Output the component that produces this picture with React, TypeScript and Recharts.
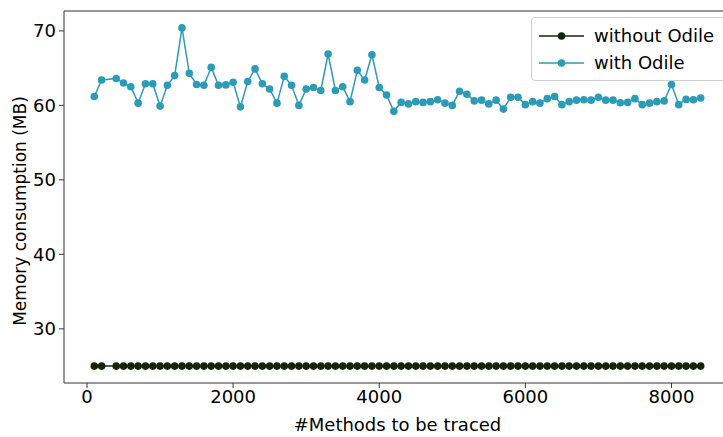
import React from "react";
import { LineChart, Line, XAxis, YAxis } from "recharts";

const methodCounts = [100, 200, 400, 500, 600, 700, 800, 900, 1000, 1100, 1200, 1300, 1400, 1500, 1600, 1700, 1800, 1900, 2000, 2100, 2200, 2300, 2400, 2500, 2600, 2700, 2800, 2900, 3000, 3100, 3200, 3300, 3400, 3500, 3600, 3700, 3800, 3900, 4000, 4100, 4200, 4300, 4400, 4500, 4600, 4700, 4800, 4900, 5000, 5100, 5200, 5300, 5400, 5500, 5600, 5700, 5800, 5900, 6000, 6100, 6200, 6300, 6400, 6500, 6600, 6700, 6800, 6900, 7000, 7100, 7200, 7300, 7400, 7500, 7600, 7700, 7800, 7900, 8000, 8100, 8200, 8300, 8400];

const withoutOdile = [25, 25, 25, 25, 25, 25, 25, 25, 25, 25, 25, 25, 25, 25, 25, 25, 25, 25, 25, 25, 25, 25, 25, 25, 25, 25, 25, 25, 25, 25, 25, 25, 25, 25, 25, 25, 25, 25, 25, 25, 25, 25, 25, 25, 25, 25, 25, 25, 25, 25, 25, 25, 25, 25, 25, 25, 25, 25, 25, 25, 25, 25, 25, 25, 25, 25, 25, 25, 25, 25, 25, 25, 25, 25, 25, 25, 25, 25, 25, 25, 25, 25, 25];

const withOdile = [
  61.2, 63.4, 63.6, 63.0, 62.5, 60.3, 62.9, 62.9, 59.9, 62.7,
  64.0, 70.4, 64.3, 62.8, 62.7, 65.1, 62.7, 62.75, 63.1, 59.8, 63.2, 64.9, 62.9, 62.2,
  60.3, 63.9, 62.7, 60.0, 62.2, 62.4, 62.0, 66.9, 62.0, 62.5, 60.5, 64.7, 63.4, 66.8, 62.4,
  61.4, 59.2, 60.4, 60.2, 60.5, 60.4, 60.5, 60.75, 60.3, 60.0, 61.9, 61.5, 60.6, 60.7,
  60.2, 60.7, 59.5, 61.1, 61.1, 60.1, 60.5, 60.3, 60.9, 61.2, 60.1, 60.5, 60.7, 60.75,
  60.7, 61.1, 60.7, 60.7, 60.35, 60.4, 60.9, 60.1, 60.3, 60.5, 60.6, 62.8, 60.1, 60.8, 60.75, 61.0,
];

const xTicks = [0, 2000, 4000, 6000, 8000];
const yTicks = [30, 40, 50, 60, 70];

const seriesNames = ["without Odile", "with Odile"];
const xTitle = "#Methods to be traced";
const yTitle = "Memory consumption (MB)";

const COLOR_WITHOUT = "#15230a";
const COLOR_WITH = "#2b9bb8";
const FONT = "DejaVu Sans, sans-serif";
const FS = 18;

const data = methodCounts.map((x, i) => ({
  x,
  without: withoutOdile[i],
  with: withOdile[i],
}));

const LegendBox = () => {
  const items = [
    { name: seriesNames[0], color: COLOR_WITHOUT },
    { name: seriesNames[1], color: COLOR_WITH },
  ];
  return (
    <div
      style={{
        position: "absolute",
        left: 531,
        top: 17,
        width: 200,
        height: 64,
        border: "1px solid #d0d0d0",
        borderRadius: 4,
        background: "rgba(255,255,255,0.85)",
        padding: "4px 0 0 6px",
        fontFamily: FONT,
        fontSize: FS,
        color: "#000",
        boxSizing: "border-box",
      }}
    >
      {items.map((it) => (
        <div key={it.name} style={{ display: "flex", alignItems: "center", height: 27, whiteSpace: "nowrap" }}>
          <svg width={48} height={12} style={{ marginRight: 8 }}>
            <line x1={1} y1={6} x2={46} y2={6} stroke={it.color} strokeWidth={1.5} />
            <circle cx={23.5} cy={6} r={3.8} fill={it.color} />
          </svg>
          <span>{it.name}</span>
        </div>
      ))}
    </div>
  );
};

const YTitle = (props: any) => {
  const vb = props.viewBox || { x: 0, y: 0, width: 0, height: 0 };
  const cx = 20;
  const cy = vb.y + vb.height / 2 + 14;
  return (
    <text
      x={cx}
      y={cy}
      transform={`rotate(-90, ${cx}, ${cy})`}
      textAnchor="middle"
      dominantBaseline="central"
      fill="#000"
      fontSize={17}
      fontFamily={FONT}
    >
      {yTitle}
    </text>
  );
};

export default function App() {
  return (
    <div style={{ position: "absolute", left: 0, top: 0, width: 740, height: 437, overflow: "hidden", background: "#fff" }}>
      <LineChart
        width={740}
        height={437}
        data={data}
        margin={{ top: 10, right: 8, left: 0, bottom: 0 }}
      >
        <XAxis
          dataKey="x"
          type="number"
          domain={[-315, 8815]}
          ticks={xTicks}
          allowDataOverflow
          height={54}
          tickSize={5}
          stroke="#333"
          tick={{ fill: "#000", fontSize: FS, fontFamily: FONT }}
          tickMargin={2}
          label={{ value: xTitle, position: "insideBottom", offset: 6, fill: "#000", fontSize: FS, fontFamily: FONT }}
        />
        <XAxis
          xAxisId="top"
          dataKey="x"
          type="number"
          orientation="top"
          domain={[-315, 8815]}
          height={1}
          tick={false}
          tickLine={false}
          stroke="#333"
        />
        <YAxis
          type="number"
          domain={[22.73, 72.67]}
          ticks={yTicks}
          allowDataOverflow
          width={64}
          tickSize={5}
          stroke="#333"
          tick={{ fill: "#000", fontSize: FS, fontFamily: FONT }}
          tickMargin={3}
          label={<YTitle />}
        />
        <YAxis
          yAxisId="right"
          orientation="right"
          domain={[22.73, 72.67]}
          width={1}
          tick={false}
          tickLine={false}
          stroke="#333"
        />
        <Line
          dataKey="without"
          name={seriesNames[0]}
          stroke={COLOR_WITHOUT}
          strokeWidth={1.5}
          dot={{ r: 3.8, fill: COLOR_WITHOUT, stroke: COLOR_WITHOUT, strokeWidth: 0 }}
          activeDot={false}
          isAnimationActive={false}
        />
        <Line
          dataKey="with"
          name={seriesNames[1]}
          stroke={COLOR_WITH}
          strokeWidth={1.5}
          dot={{ r: 3.8, fill: COLOR_WITH, stroke: COLOR_WITH, strokeWidth: 0 }}
          activeDot={false}
          isAnimationActive={false}
        />
      </LineChart>
      <LegendBox />
    </div>
  );
}
